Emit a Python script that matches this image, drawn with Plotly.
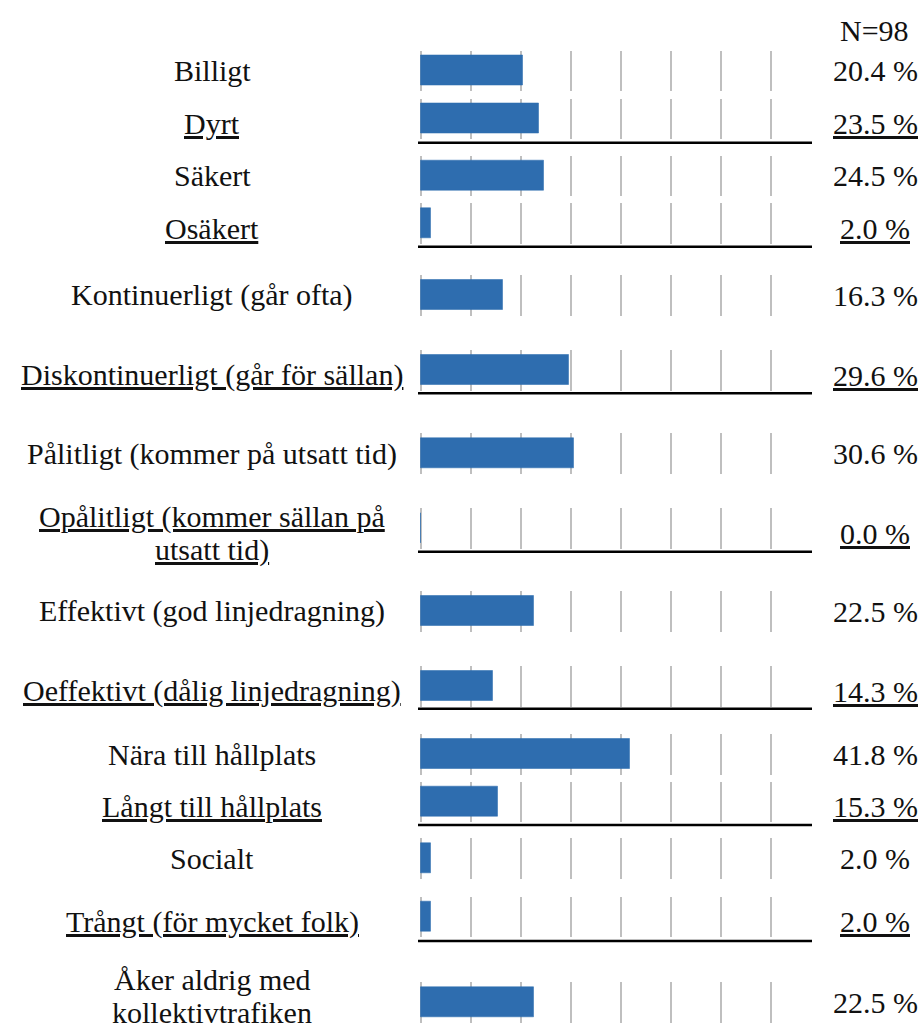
import plotly.graph_objects as go
from plotly.subplots import make_subplots

# ---- data -------------------------------------------------------------
categories = [
    "Billigt",
    "Dyrt",
    "Säkert",
    "Osäkert",
    "Kontinuerligt (går ofta)",
    "Diskontinuerligt (går för sällan)",
    "Pålitligt (kommer på utsatt tid)",
    "Opålitligt (kommer sällan på<br>utsatt tid)",
    "Effektivt (god linjedragning)",
    "Oeffektivt (dålig linjedragning)",
    "Nära till hållplats",
    "Långt till hållplats",
    "Socialt",
    "Trångt (för mycket folk)",
    "Åker aldrig med<br>kollektivtrafiken",
]
values = [20.4, 23.5, 24.5, 2.0, 16.3, 29.6, 30.6, 0.0, 22.5, 14.3, 41.8, 15.3, 2.0, 2.0, 22.5]
# second item of each contrasting pair is underlined
underlined = [False, True, False, True, False, True, False, True,
              False, True, False, True, False, True, False]
sample_label = "N=98"

# ---- layout constants (pixels) ----------------------------------------
W, H = 924, 1033
row_tops = [50.5, 98.5, 155.7, 203.3, 275, 350, 433.3, 508.3,
            591, 666, 734, 781.7, 838.3, 896.7, 982.3]
row_h = 40.5
pair_rules = [142.7, 246.7, 393.3, 551.7, 708.7, 825, 941]
plot_left, plot_right = 418, 812
label_x, value_x = 212, 875
line_step = 33
FONT = "Liberation Serif"
FS = 30
TEXT = "#111111"
BAR = "#2E6DAF"
GRID = "#BFBFBF"

n = len(categories)
fig = make_subplots(rows=n, cols=1, vertical_spacing=0)


def py(px):
    return 1 - px / H


def ul(s, on):
    if not on:
        return s
    return f'<span style="text-decoration:underline">{s}</span>'


def label(text, x_px, y_px):
    return dict(
        text=text, x=x_px / W, y=py(y_px), xref="paper", yref="paper",
        xanchor="center", yanchor="middle", showarrow=False, align="center",
        font=dict(family=FONT, size=FS, color=TEXT),
    )


annotations = []
for i, (cat, val, u) in enumerate(zip(categories, values, underlined)):
    r = i + 1
    fig.add_trace(
        go.Bar(
            x=[val], y=[0], orientation="h", width=0.75,
            marker=dict(color=BAR, line=dict(color="rgba(46,109,175,0.55)", width=1)),
            showlegend=False, hoverinfo="skip",
        ),
        row=r, col=1,
    )
    top = row_tops[i]
    fig.update_yaxes(
        domain=[py(top + row_h), py(top)], range=[-0.5, 0.5],
        visible=False, fixedrange=True, row=r, col=1,
    )
    fig.update_xaxes(
        domain=[plot_left / W, plot_right / W], range=[-0.6, 78.2],
        dtick=10, tick0=0, showgrid=True, gridcolor=GRID, gridwidth=2,
        zeroline=True, zerolinecolor=GRID, zerolinewidth=2,
        showticklabels=False, ticks="", showline=False, fixedrange=True,
        row=r, col=1,
    )
    cy = top + row_h / 2 + (5 if u else 0)
    lines = cat.split("<br>")
    first = cy - line_step * (len(lines) - 1) / 2
    # keep the last label block inside the bottom edge
    last = first + line_step * (len(lines) - 1)
    if last > H - 21:
        first -= last - (H - 21)
    for k, part in enumerate(lines):
        annotations.append(label(ul(part, u), label_x, first + k * line_step))
    annotations.append(label(ul(f"{val:.1f} %", u), value_x, cy))

annotations.append(label(sample_label, 874, 30))

shapes = [
    dict(type="line", xref="paper", yref="paper",
         x0=plot_left / W, x1=plot_right / W, y0=py(yy), y1=py(yy),
         line=dict(color="black", width=2.5))
    for yy in pair_rules
]

fig.update_layout(
    width=W, height=H, margin=dict(l=0, r=0, t=0, b=0),
    paper_bgcolor="white", plot_bgcolor="white",
    annotations=annotations, shapes=shapes, bargap=0,
    font=dict(family=FONT, size=FS, color=TEXT),
)

fig.write_html("out.html")
